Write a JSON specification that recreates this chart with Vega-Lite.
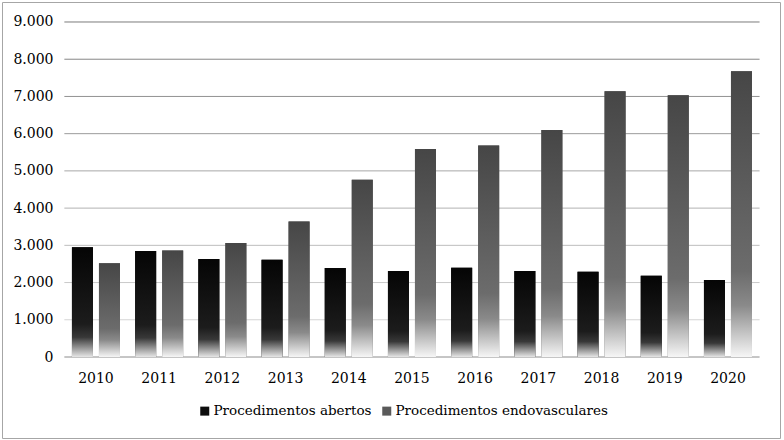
{
  "$schema": "https://vega.github.io/schema/vega-lite/v6.json",
  "width": 778,
  "height": 436,
  "padding": {"left": 2, "top": 2, "right": 4, "bottom": 2},
  "autosize": "none",
  "background": "white",
  "config": {
    "font": "DejaVu Serif",
    "view": {"stroke": "#a6a6a6", "strokeWidth": 1}
  },
  "datasets": {
    "bars": [
      {"ano": "2010", "serie": "Procedimentos abertos", "valor": 2950},
      {"ano": "2010", "serie": "Procedimentos endovasculares", "valor": 2520},
      {"ano": "2011", "serie": "Procedimentos abertos", "valor": 2850},
      {"ano": "2011", "serie": "Procedimentos endovasculares", "valor": 2860},
      {"ano": "2012", "serie": "Procedimentos abertos", "valor": 2630},
      {"ano": "2012", "serie": "Procedimentos endovasculares", "valor": 3060},
      {"ano": "2013", "serie": "Procedimentos abertos", "valor": 2610},
      {"ano": "2013", "serie": "Procedimentos endovasculares", "valor": 3640},
      {"ano": "2014", "serie": "Procedimentos abertos", "valor": 2390},
      {"ano": "2014", "serie": "Procedimentos endovasculares", "valor": 4760},
      {"ano": "2015", "serie": "Procedimentos abertos", "valor": 2310},
      {"ano": "2015", "serie": "Procedimentos endovasculares", "valor": 5590},
      {"ano": "2016", "serie": "Procedimentos abertos", "valor": 2400},
      {"ano": "2016", "serie": "Procedimentos endovasculares", "valor": 5680},
      {"ano": "2017", "serie": "Procedimentos abertos", "valor": 2310},
      {"ano": "2017", "serie": "Procedimentos endovasculares", "valor": 6100},
      {"ano": "2018", "serie": "Procedimentos abertos", "valor": 2290},
      {"ano": "2018", "serie": "Procedimentos endovasculares", "valor": 7140},
      {"ano": "2019", "serie": "Procedimentos abertos", "valor": 2180},
      {"ano": "2019", "serie": "Procedimentos endovasculares", "valor": 7030},
      {"ano": "2020", "serie": "Procedimentos abertos", "valor": 2070},
      {"ano": "2020", "serie": "Procedimentos endovasculares", "valor": 7680}
    ],
    "grid": [
      {"v": 0}, {"v": 1000}, {"v": 2000}, {"v": 3000}, {"v": 4000},
      {"v": 5000}, {"v": 6000}, {"v": 7000}, {"v": 8000}, {"v": 9000}
    ]
  },
  "layer": [
    {
      "data": {"name": "grid"},
      "mark": {"type": "rule", "strokeWidth": 1},
      "encoding": {
        "y": {"field": "v", "type": "quantitative"},
        "x": {"datum": "2010", "type": "nominal", "bandPosition": -0.158},
        "x2": {"datum": "2020", "bandPosition": 1.158},
        "stroke": {
          "condition": {"test": "datum.v === 0", "value": "#8c8c8c"},
          "field": "v",
          "type": "quantitative",
          "scale": {"domain": [1000, 9000], "range": ["#d4d4d4", "#7c7c7c"]},
          "legend": null
        }
      }
    },
    {
      "data": {"name": "bars"},
      "mark": {"type": "bar"},
      "encoding": {
        "x": {
          "field": "ano",
          "type": "nominal",
          "sort": null,
          "scale": {
            "domain": ["2010", "2011", "2012", "2013", "2014", "2015", "2016", "2017", "2018", "2019", "2020"],
            "paddingInner": 0.24,
            "paddingOuter": 0.775,
            "align": 0.714
          },
          "axis": {
            "title": null,
            "orient": "bottom",
            "offset": -60,
            "bandPosition": 0.5,
            "labelAlign": "center",
            "domain": false,
            "ticks": false,
            "tickSize": 0,
            "labelPadding": 0,
            "labelAngle": 0,
            "labelFontSize": 14,
            "labelFont": "DejaVu Serif",
            "labelColor": "#000000",
            "grid": false
          }
        },
        "xOffset": {
          "field": "serie",
          "type": "nominal",
          "scale": {"paddingInner": 0.222, "paddingOuter": 0}
        },
        "y": {
          "field": "valor",
          "type": "quantitative",
          "scale": {"domain": [-2176.1, 9537.3], "nice": false, "zero": false},
          "axis": {
            "title": null,
            "orient": "left",
            "offset": -51,
            "values": [0, 1000, 2000, 3000, 4000, 5000, 6000, 7000, 8000, 9000],
            "labelExpr": "replace(format(datum.value, ','), ',', '.')",
            "domain": false,
            "ticks": false,
            "tickSize": 0,
            "labelPadding": 0,
            "grid": false,
            "labelFontSize": 14,
            "labelFont": "DejaVu Serif",
            "labelColor": "#000000"
          }
        },
        "y2": {"datum": 0},
        "color": {
          "field": "serie",
          "type": "nominal",
          "scale": {"range": ["#0d0d0d", "#5a5a5a"]},
          "legend": {
            "title": null,
            "orient": "none",
            "direction": "horizontal",
            "legendX": 196,
            "legendY": 402,
            "symbolType": "square",
            "symbolSize": 81,
            "symbolStrokeWidth": 0,
            "labelFontSize": 13.5,
            "labelFont": "DejaVu Serif",
            "labelColor": "#000000",
            "labelOffset": 2,
            "columnPadding": 8,
            "padding": 0,
            "labelLimit": 400
          }
        }
      }
    },
    {
      "data": {"name": "bars"},
      "mark": {"type": "bar"},
      "encoding": {
        "x": {"field": "ano", "type": "nominal", "sort": null},
        "xOffset": {"field": "serie", "type": "nominal"},
        "y": {"field": "valor", "type": "quantitative"},
        "y2": {"datum": 0},
        "fill": {
          "condition": {
            "test": "datum.serie === 'Procedimentos abertos'",
            "value": {
              "gradient": "linear", "x1": 0, "y1": 0, "x2": 0, "y2": 1,
              "stops": [
                {"offset": 0, "color": "#050505"},
                {"offset": 0.7, "color": "#1c1c1c"},
                {"offset": 0.82, "color": "#383838"},
                {"offset": 1, "color": "#e6e6e6"}
              ]
            }
          },
          "value": {
            "gradient": "linear", "x1": 0, "y1": 0, "x2": 0, "y2": 1,
            "stops": [
              {"offset": 0, "color": "#464646"},
              {"offset": 0.7, "color": "#6c6c6c"},
              {"offset": 0.82, "color": "#8a8a8a"},
              {"offset": 1, "color": "#f6f6f6"}
            ]
          }
        }
      }
    }
  ]
}
